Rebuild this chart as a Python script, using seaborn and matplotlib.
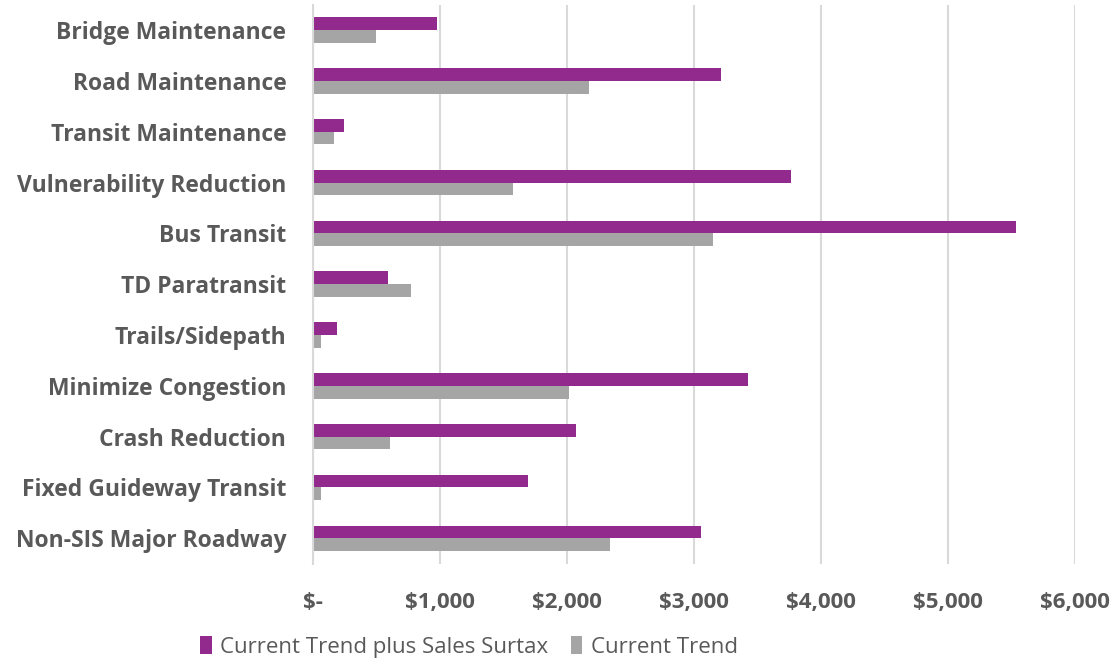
import matplotlib
matplotlib.use("Agg")
import matplotlib.pyplot as plt
import seaborn as sns
import pandas as pd
from matplotlib.ticker import FuncFormatter
from matplotlib.patches import Patch

categories = ["Bridge Maintenance", "Road Maintenance", "Transit Maintenance",
              "Vulnerability Reduction", "Bus Transit", "TD Paratransit",
              "Trails/Sidepath", "Minimize Congestion", "Crash Reduction",
              "Fixed Guideway Transit", "Non-SIS Major Roadway"]
surtax = [978, 3212, 247, 3770, 5536, 589, 187, 3428, 2077, 1693, 3055]
current = [497, 2172, 168, 1580, 3149, 775, 63, 2016, 605, 63, 2343]
series_names = ["Current Trend plus Sales Surtax", "Current Trend"]
colors = ["#92298D", "#A5A5A5"]

df = pd.DataFrame({
    "category": categories * 2,
    "value": surtax + current,
    "series": [series_names[0]] * len(categories) + [series_names[1]] * len(categories),
})

sns.set_theme(style="white")
plt.rcParams['font.family'] = ['Open Sans', 'DejaVu Sans']

fig = plt.figure(figsize=(11.17, 6.64), dpi=100)
ax = fig.add_axes([0.280, 0.151, 0.682, 0.842])

sns.barplot(data=df, y="category", x="value", hue="series", order=categories,
            hue_order=series_names, palette=colors, width=0.5, gap=0,
            orient="h", ax=ax, legend=False, saturation=1, edgecolor="none")

ax.set_xlim(0, 6000)
ax.set_xticks([0, 1000, 2000, 3000, 4000, 5000, 6000])
ax.xaxis.set_major_formatter(FuncFormatter(lambda v, p: "$-" if v == 0 else f"${v:,.0f}"))
ax.grid(axis="x", color="#D9D9D9", linewidth=1.5)
ax.set_axisbelow(True)
for s in ["top", "right", "bottom"]:
    ax.spines[s].set_visible(False)
ax.spines["left"].set_color("#D9D9D9")
ax.spines["left"].set_linewidth(1.5)
ax.set_xlabel("")
ax.set_ylabel("")
ax.tick_params(axis="both", length=0)
ax.tick_params(axis="y", pad=19)
ax.tick_params(axis="x", pad=20)
for lab in ax.get_yticklabels():
    lab.set_fontsize(16.5)
    lab.set_fontweight("bold")
    lab.set_color("#595959")
for lab in ax.get_xticklabels():
    lab.set_fontsize(16)
    lab.set_fontweight("bold")
    lab.set_color("#595959")

handles = [Patch(facecolor=c, edgecolor="none") for c in colors]
leg = fig.legend(handles, series_names, loc="center", bbox_to_anchor=(0.42, 0.026),
                 ncol=2, frameon=False, fontsize=16, handlelength=0.5, handleheight=0.9,
                 handletextpad=0.4, columnspacing=1.0)
for t in leg.get_texts():
    t.set_color("#595959")

fig.savefig("out.png", dpi=100)
